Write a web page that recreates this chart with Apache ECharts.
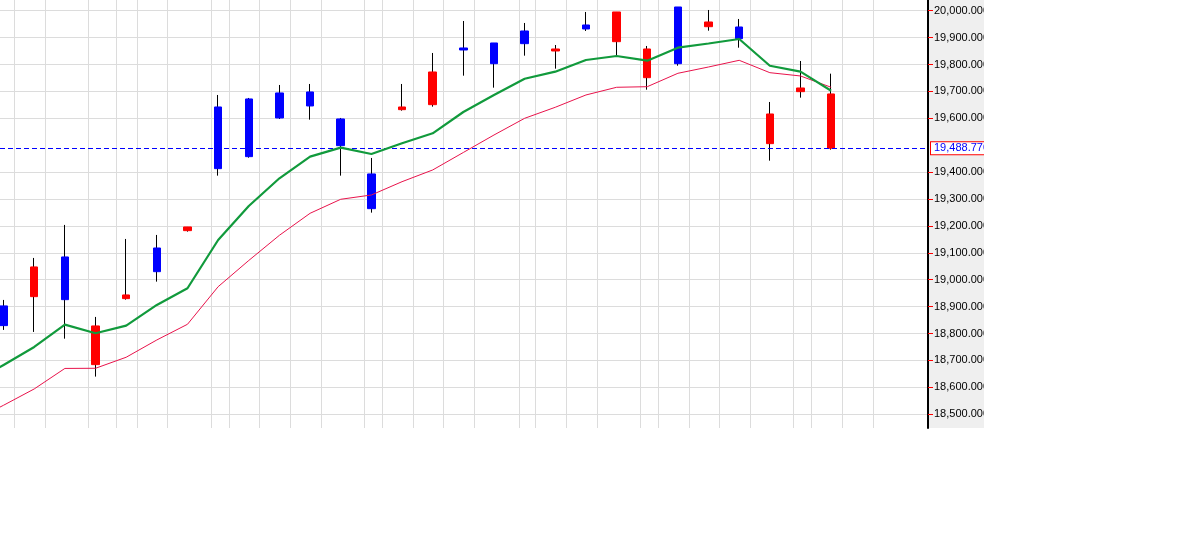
<!DOCTYPE html>
<html>
<head>
<meta charset="utf-8">
<script src="https://cdn.jsdelivr.net/npm/echarts@6/dist/echarts.min.js"></script>
<style>
html,body{margin:0;padding:0;background:#fff;}
#chart{width:1194px;height:546px;}
</style>
</head>
<body>
<div id="chart"></div>
<script>
// Candle index (0 = partially visible leftmost session)
const opens  = [18829.5,19047.6,18926.0,18828.3,18943.5,19030.0,19196.2,19412.9,19457.5,19601.3,19645.9,19498.3,19264.2,19642.1,19772.2,19853.9,19803.0,19877.4,19857.7,19932.0,19995.2,19857.7,19803.0,19958.0,19896.0,19616.1,19712.7,19690.5];
const closes = [18902.7,18937.2,19084.7,18684.5,18929.8,19118.0,19182.5,19642.1,19671.9,19694.2,19697.9,19597.6,19393.2,19632.1,19650.7,19861.4,19880.0,19924.6,19850.2,19946.9,19884.8,19751.0,20013.7,19940.5,19939.4,19505.8,19699.0,19488.77];
const lows   = [18813.5,18806.0,18781.0,18640.0,18926.0,18993.0,19178.8,19386.9,19453.7,19597.6,19595.0,19386.9,19249.4,19628.4,19643.3,19758.5,19713.9,19832.8,19784.5,19924.6,19832.8,19706.4,19795.6,19925.7,19862.5,19442.6,19676.7,19483.5];
const highs  = [18925.0,19081.0,19203.7,18861.8,19151.6,19166.5,19196.2,19686.7,19675.6,19723.9,19727.6,19601.3,19452.6,19727.6,19842.8,19961.7,19880.0,19954.3,19872.5,19995.2,19995.2,19868.8,20013.7,20002.6,19969.2,19660.7,19813.0,19765.9];

// Moving averages, starting one session before the first visible candle
const maStart = -1;
const greenMA = [18616.5,18683.4,18750.3,18833.1,18801.2,18829.4,18906.3,18968.4,19147.8,19274.2,19377.1,19457.4,19490.9,19467.4,19507.1,19544.3,19623.5,19686.6,19747.2,19773.3,19816.7,19831.6,19814.1,19862.4,19878.0,19894.7,19795.5,19773.3,19702.6];
const redMA   = [18475.3,18533.6,18594.2,18670.4,18671.0,18712.0,18776.2,18834.5,18974.2,19071.7,19165.3,19247.0,19299.1,19315.0,19364.5,19408.0,19473.0,19538.0,19600.0,19641.0,19686.7,19715.3,19717.5,19767.3,19790.7,19815.6,19769.6,19757.3,19715.3];

// Last price line
const lastPrice = 19488.77;

// Price axis tick labels (19,500 is replaced by the last-price label)
const yTicks = [18500,18600,18700,18800,18900,19000,19100,19200,19300,19400,19600,19700,19800,19900,20000];

// Vertical grid lines (in session-index units)
const gridX = [0.347,1.359,2.761,3.675,4.360,5.339,6.774,7.361,8.340,9.351,10.362,11.765,12.352,13.364,14.342,15.353,16.821,17.343,18.355,19.366,20.769,21.356,22.367,23.346,24.357,25.760,26.347,27.358,28.369];

function fmt(v){
  const s = Number(v).toFixed(3);
  const parts = s.split('.');
  parts[0] = parts[0].replace(/\B(?=(\d{3})+(?!\d))/g, ',');
  return parts.join('.');
}

const wickData = opens.map((o,i)=>[i, o, closes[i], lows[i], highs[i]]);
const bodyData = opens.map((o,i)=>[i, o, closes[i], Math.min(o,closes[i]), Math.max(o,closes[i])]);
const greenData = greenMA.map((v,i)=>[i+maStart, v]);
const redData = redMA.map((v,i)=>[i+maStart, v]);

const FONT = "'Liberation Sans', Arial, sans-serif";

const chart = echarts.init(document.getElementById('chart'), null, {renderer:'canvas'});
chart.setOption({
  animation: false,
  backgroundColor: '#ffffff',
  grid: {left: 0, right: 266, top: 0, bottom: 118, containLabel: false},
  xAxis: {
    type: 'value', min: -0.117, max: 30.16, show: false,
    splitLine: {show: false}
  },
  yAxis: {
    type: 'value', position: 'right', scale: true,
    min: 18449, max: 20039.7,
    axisLine: {show: true, onZero: false, lineStyle: {color: '#000', width: 2}},
    axisTick: {show: true, length: 5, customValues: yTicks, lineStyle: {color: '#ff0000', width: 1}},
    axisLabel: {show: true, customValues: yTicks, margin: 6, color: '#000', fontSize: 11, fontFamily: FONT, formatter: fmt},
    splitLine: {show: true, lineStyle: {color: '#dcdcdc', width: 1}}
  },
  graphic: [
    {type: 'rect', silent: true, z: -10, shape: {x: 928, y: 0, width: 56, height: 428}, style: {fill: '#efefef'}},
    {type: 'rect', silent: true, z: 100, shape: {x: 984, y: 0, width: 210, height: 546}, style: {fill: '#ffffff'}}
  ],
  series: [
    {
      type: 'line', name: 'grid', data: [], z: 1, silent: true,
      markLine: {
        silent: true, symbol: ['none','none'], animation: false,
        label: {show: false},
        lineStyle: {color: '#dcdcdc', width: 1, type: 'solid'},
        data: gridX.map(v=>({xAxis: v}))
      }
    },
    {
      type: 'candlestick', name: 'wick', z: 3, silent: true,
      dimensions: ['idx','open','close','lowest','highest'],
      encode: {x: 'idx', y: ['open','close','lowest','highest']},
      barWidth: 1,
      itemStyle: {color: '#000', color0: '#000', borderColor: '#000', borderColor0: '#000', borderWidth: 1},
      data: wickData
    },
    {
      type: 'candlestick', name: 'body', z: 4, silent: true,
      dimensions: ['idx','open','close','lowest','highest'],
      encode: {x: 'idx', y: ['open','close','lowest','highest']},
      barWidth: 8,
      itemStyle: {color: '#0000ff', color0: '#ff0000', borderColor: '#0000ff', borderColor0: '#ff0000', borderWidth: 1},
      data: bodyData
    },
    {
      type: 'line', name: 'MA2', data: redData, z: 5, showSymbol: false, symbol: 'none', silent: true,
      lineStyle: {color: '#e8134b', width: 1}
    },
    {
      type: 'line', name: 'MA1', data: greenData, z: 6, showSymbol: false, symbol: 'none', silent: true,
      lineStyle: {color: '#119a3c', width: 2.2}
    },
    {
      type: 'line', name: 'last', data: [], z: 7, silent: true,
      markLine: {
        silent: true, symbol: ['none','none'], animation: false,
        lineStyle: {color: '#0000ff', width: 1, type: [5,3]},
        label: {
          show: true, position: 'end', distance: 3,
          formatter: p => fmt(p.value),
          color: '#0000ff', fontSize: 11, fontFamily: FONT,
          backgroundColor: '#ffffff', borderColor: '#ff0000', borderWidth: 1,
          padding: [1,3,0,3], lineHeight: 11
        },
        data: [{yAxis: lastPrice}]
      }
    }
  ]
});
</script>
</body>
</html>
